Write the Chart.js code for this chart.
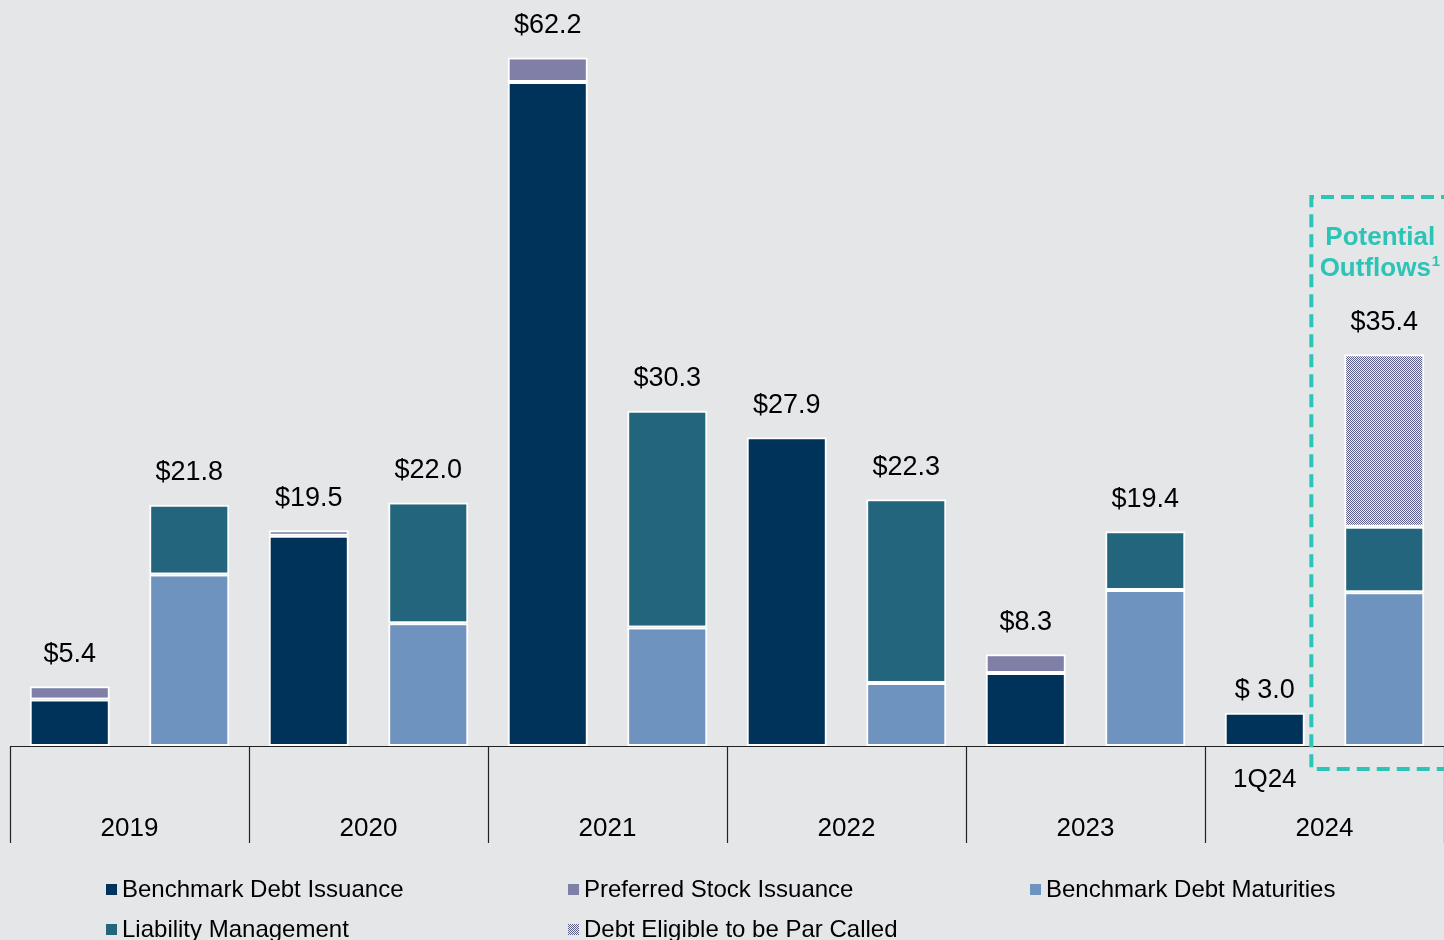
<!DOCTYPE html>
<html>
<head>
<meta charset="utf-8">
<script src="https://cdn.jsdelivr.net/npm/chart.js@4.4.1/dist/chart.umd.min.js"></script>
<style>
  html, body { margin: 0; padding: 0; background: #e5e6e8; }
  #wrap { width: 1444px; height: 940px; position: relative; }
</style>
</head>
<body>
<div id="wrap"><canvas id="chart"></canvas></div>
<script>
// --- dati (miliardi $) ---
const barKeys = ['2019a', '2019b', '2020a', '2020b', '2021a', '2021b', '2022a', '2022b', '2023a', '2023b', '2024a', '2024b'];
const yearLabels = ['2019', '2020', '2021', '2022', '2023', '2024'];
const subLabels = ['', '', '', '', '', '', '', '', '', '', '1Q24', ''];
const totalLabels = ['$5.4', '$21.8', '$19.5', '$22.0', '$62.2', '$30.3', '$27.9', '$22.3', '$8.3', '$19.4', '$ 3.0', '$35.4'];

const benchmarkIssuance = [4.2, null, 19.0, null, 60.0, null, 27.9, null, 6.6, null, 3.0, null];
const preferredStock    = [1.2, null, 0.5, null, 2.2, null, null, null, 1.7, null, null, null];
const debtMaturities    = [null, 15.5, null, 11.1, null, 10.7, null, 5.7, null, 14.1, null, 13.9];
const liabilityMgmt     = [null, 6.3, null, 10.9, null, 19.6, null, 16.6, null, 5.3, null, 5.9];
const parCalled         = [null, null, null, null, null, null, null, null, null, null, null, 15.6];

const FONT = '"Liberation Sans", Arial, sans-serif';
const TEAL = '#2bc4b6';

// pattern a scacchi per "Debt Eligible to be Par Called"
function makeChecker() {
    const c = document.createElement('canvas');
    c.width = 2; c.height = 2;
    const g = c.getContext('2d');
    g.fillStyle = '#f0f0f4';
    g.fillRect(0, 0, 2, 2);
    g.fillStyle = '#5a5c8c';
    g.fillRect(0, 0, 1, 1);
    g.fillRect(1, 1, 1, 1);
    return g.createPattern(c, 'repeat');
}
const checker = makeChecker();

const legendItems = [
    { text: 'Benchmark Debt Issuance', color: '#003359' },
    { text: 'Preferred Stock Issuance', color: '#7f7fa8' },
    { text: 'Benchmark Debt Maturities', color: '#6e93bf' },
    { text: 'Liability Management', color: '#22657c' },
    { text: 'Debt Eligible to be Par Called', color: checker }
];

function ds(label, data, color) {
    return {
        label: label,
        data: data,
        backgroundColor: color,
        borderColor: '#ffffff',
        borderWidth: 2,
        borderSkipped: false,
        stack: 's',
        barPercentage: 0.67,
        categoryPercentage: 1.0
    };
}

/**
 * Plugin per asse, etichette, legenda e riquadro tratteggiato
 */
const decorPlugin = {
    id: 'decor',
    afterDatasetsDraw(chart) {
        const ctx = chart.ctx;
        const x = chart.scales.x;
        const y = chart.scales.y;
        const area = chart.chartArea;
        const catW = (area.right - area.left) / barKeys.length;
        const base = y.getPixelForValue(0);

        ctx.save();

        // totali sopra le barre (1Q24 un po' più vicino, come nell'originale)
        ctx.fillStyle = '#000';
        ctx.font = '27px ' + FONT;
        ctx.textAlign = 'center';
        ctx.textBaseline = 'middle';
        barKeys.forEach((k, i) => {
            let tot = 0;
            chart.data.datasets.forEach(d => { tot += d.data[i] || 0; });
            const gap = subLabels[i] ? 22 : 32;
            ctx.fillText(totalLabels[i], x.getPixelForValue(i), y.getPixelForValue(tot) - gap);
        });

        // linea base
        ctx.strokeStyle = '#222';
        ctx.lineWidth = 1.2;
        ctx.beginPath();
        ctx.moveTo(area.left, base + 0.5);
        ctx.lineTo(area.right, base + 0.5);
        ctx.stroke();

        // separatori degli anni
        for (let g = 0; g <= yearLabels.length; g++) {
            const px = Math.round(area.left + g * 2 * catW) + 0.5;
            ctx.beginPath();
            ctx.moveTo(px, base);
            ctx.lineTo(px, base + 97);
            ctx.stroke();
        }

        // etichette anni e sotto-etichette
        ctx.font = '26px ' + FONT;
        yearLabels.forEach((lab, g) => {
            ctx.fillText(lab, area.left + (g * 2 + 1) * catW, base + 83);
        });
        subLabels.forEach((lab, i) => {
            if (lab) ctx.fillText(lab, x.getPixelForValue(i), base + 34);
        });

        // legenda su 3 colonne
        ctx.font = '24px ' + FONT;
        ctx.textAlign = 'left';
        legendItems.forEach((it, i) => {
            const col = i % 3, row = Math.floor(i / 3);
            const lx = 106 + col * 462;
            const ly = 890 + row * 40;
            ctx.fillStyle = it.color;
            ctx.fillRect(lx, ly - 6, 11, 11);
            ctx.fillStyle = '#000';
            ctx.fillText(it.text, lx + 16, ly);
        });

        // riquadro "Potential Outflows"
        const last = barKeys.length - 1;
        const cx = x.getPixelForValue(last);
        const boxL = cx - catW * 0.61;
        const boxT = y.getPixelForValue(49.6);
        const boxB = base + 23;
        ctx.strokeStyle = TEAL;
        ctx.lineWidth = 4;
        ctx.setLineDash([13, 7]);
        ctx.beginPath();
        ctx.moveTo(area.right + 10, boxT);
        ctx.lineTo(boxL, boxT);
        ctx.lineTo(boxL, boxB);
        ctx.lineTo(area.right + 10, boxB);
        ctx.stroke();
        ctx.setLineDash([]);

        ctx.fillStyle = TEAL;
        ctx.font = 'bold 26px ' + FONT;
        ctx.textAlign = 'center';
        ctx.fillText('Potential', cx - 4, boxT + 41);
        const w1 = ctx.measureText('Outflows').width;
        ctx.textAlign = 'left';
        const ox = cx - 9 - w1 / 2;
        ctx.fillText('Outflows', ox, boxT + 72);
        ctx.font = 'bold 15px ' + FONT;
        ctx.fillText('1', ox + w1 + 1, boxT + 65);

        ctx.restore();
    }
};

document.addEventListener('DOMContentLoaded', function() {
    const ctx = document.getElementById('chart').getContext('2d');
    new Chart(ctx, {
        type: 'bar',
        data: {
            labels: barKeys,
            datasets: [
                ds('Benchmark Debt Issuance', benchmarkIssuance, '#003359'),
                ds('Preferred Stock Issuance', preferredStock, '#7f7fa8'),
                ds('Benchmark Debt Maturities', debtMaturities, '#6e93bf'),
                ds('Liability Management', liabilityMgmt, '#22657c'),
                ds('Debt Eligible to be Par Called', parCalled, checker)
            ]
        },
        options: {
            responsive: true,
            maintainAspectRatio: false,
            animation: false,
            layout: { padding: { left: 10, right: 0, top: 0, bottom: 194 } },
            plugins: {
                legend: { display: false },
                tooltip: { enabled: false }
            },
            scales: {
                x: { stacked: true, display: false },
                y: { stacked: true, display: false, min: 0, max: 67.4 }
            }
        },
        plugins: [decorPlugin]
    });
});
</script>
</body>
</html>
